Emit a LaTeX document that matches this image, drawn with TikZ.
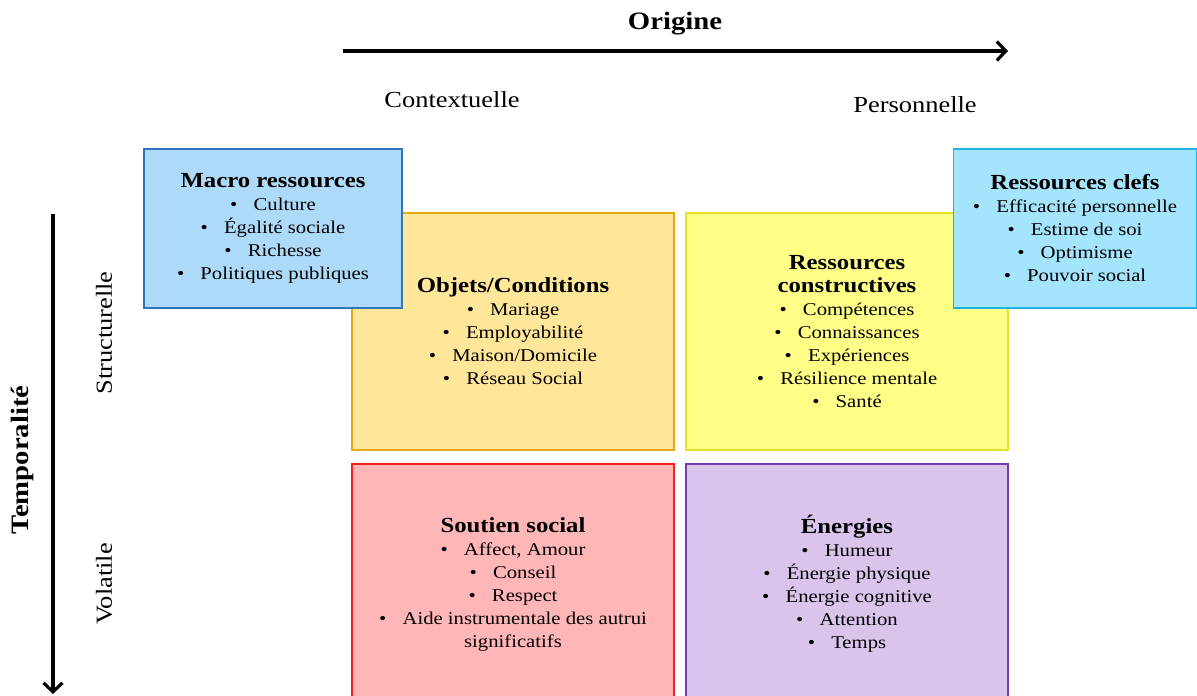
\documentclass[tikz,border=0pt]{standalone}
\usepackage{fontspec}
\setmainfont[FakeStretch=1.15]{Liberation Serif}
\usetikzlibrary{arrows.meta}

\definecolor{macroFill}{RGB}{174,218,250}
\definecolor{macroLine}{RGB}{46,117,190}
\definecolor{objetsFill}{RGB}{255,230,153}
\definecolor{objetsLine}{RGB}{228,170,20}
\definecolor{constrFill}{RGB}{255,255,136}
\definecolor{constrLine}{RGB}{226,226,40}
\definecolor{clefsFill}{RGB}{164,228,252}
\definecolor{clefsLine}{RGB}{30,178,230}
\definecolor{soutienFill}{RGB}{255,182,182}
\definecolor{soutienLine}{RGB}{250,30,30}
\definecolor{energieFill}{RGB}{218,196,236}
\definecolor{energieLine}{RGB}{118,60,170}

\newcommand{\puce}[1]{\textbullet\hspace{0.9em}#1}
\newcommand{\titre}[1]{{\fontsize{21.5}{23}\selectfont\bfseries #1}}

\begin{document}
\begin{tikzpicture}[
      x=1pt, y=-1pt,
      every node/.style={font=\fontsize{18}{23}\selectfont},
      box/.style={draw, line width=1.3pt, align=center, inner sep=0pt},
      axis/.style={line width=3.2pt, -{Straight Barb[length=9pt,width=19pt]}},
      side/.style={font=\fontsize{23}{23}\selectfont},
      head/.style={font=\fontsize{25}{25}\selectfont\bfseries}
    ]
    \useasboundingbox (0,0) rectangle (1197,696);
    % Draw the axes.
    \node[head] (origine) at (675,24) {Origine};
    \coordinate (oStart) at (343,51);
    \coordinate (oEnd) at (1008,51);
    \draw[axis] (oStart) -- (oEnd);
    \node[side] (contextuelle) at (452,100) {Contextuelle};
    \node[side] (personnelle) at (915,105) {Personnelle};
    \node[head,rotate=90] (temporalite) at (22,460) {Temporalité};
    \coordinate (tStart) at (53,214);
    \coordinate (tEnd) at (53,694);
    \draw[axis] (tStart) -- (tEnd);
    \node[side,rotate=90] (structurelle) at (104,333) {Structurelle};
    \node[side,rotate=90] (volatile) at (104,584) {Volatile};
    % Draw the middle boxes.
    \node[box,fill=objetsFill,draw=objetsLine,minimum width=322pt,minimum height=237pt]
      (objets) at (513,331.5) {\titre{Objets/Conditions}\\ \puce{Mariage}\\
      \puce{Employabilité}\\ \puce{Maison/Domicile}\\ \puce{Réseau Social}};
    \node[box,fill=constrFill,draw=constrLine,minimum width=322pt,minimum height=237pt]
      (constructives) at (847,331.5) {\titre{Ressources}\\ \titre{constructives}\\
      \puce{Compétences}\\ \puce{Connaissances}\\ \puce{Expériences}\\
      \puce{Résilience mentale}\\ \puce{Santé}};
    \node[box,fill=soutienFill,draw=soutienLine,minimum width=322pt,minimum height=240pt]
      (soutien) at (513,584) {\titre{Soutien social}\\ \puce{Affect, Amour}\\
      \puce{Conseil}\\ \puce{Respect}\\ \puce{Aide instrumentale des autrui}\\ significatifs};
    \node[box,fill=energieFill,draw=energieLine,minimum width=322pt,minimum height=240pt]
      (energies) at (847,584) {\titre{Énergies}\\ \puce{Humeur}\\
      \puce{Énergie physique}\\ \puce{Énergie cognitive}\\ \puce{Attention}\\ \puce{Temps}};
    % Draw the corner boxes.
    \node[box,fill=macroFill,draw=macroLine,minimum width=258pt,minimum height=159pt]
      (macro) at (273,228.5) {\titre{Macro ressources}\\ \puce{Culture}\\
      \puce{Égalité sociale}\\ \puce{Richesse}\\ \puce{Politiques publiques}};
    \node[box,fill=clefsFill,draw=clefsLine,minimum width=243pt,minimum height=159pt]
      (clefs) at (1075,228.5) {\titre{Ressources clefs}\\ \puce{Efficacité personnelle}\\
      \puce{Estime de soi}\\ \puce{Optimisme}\\ \puce{Pouvoir social}};
\end{tikzpicture}
\end{document}
